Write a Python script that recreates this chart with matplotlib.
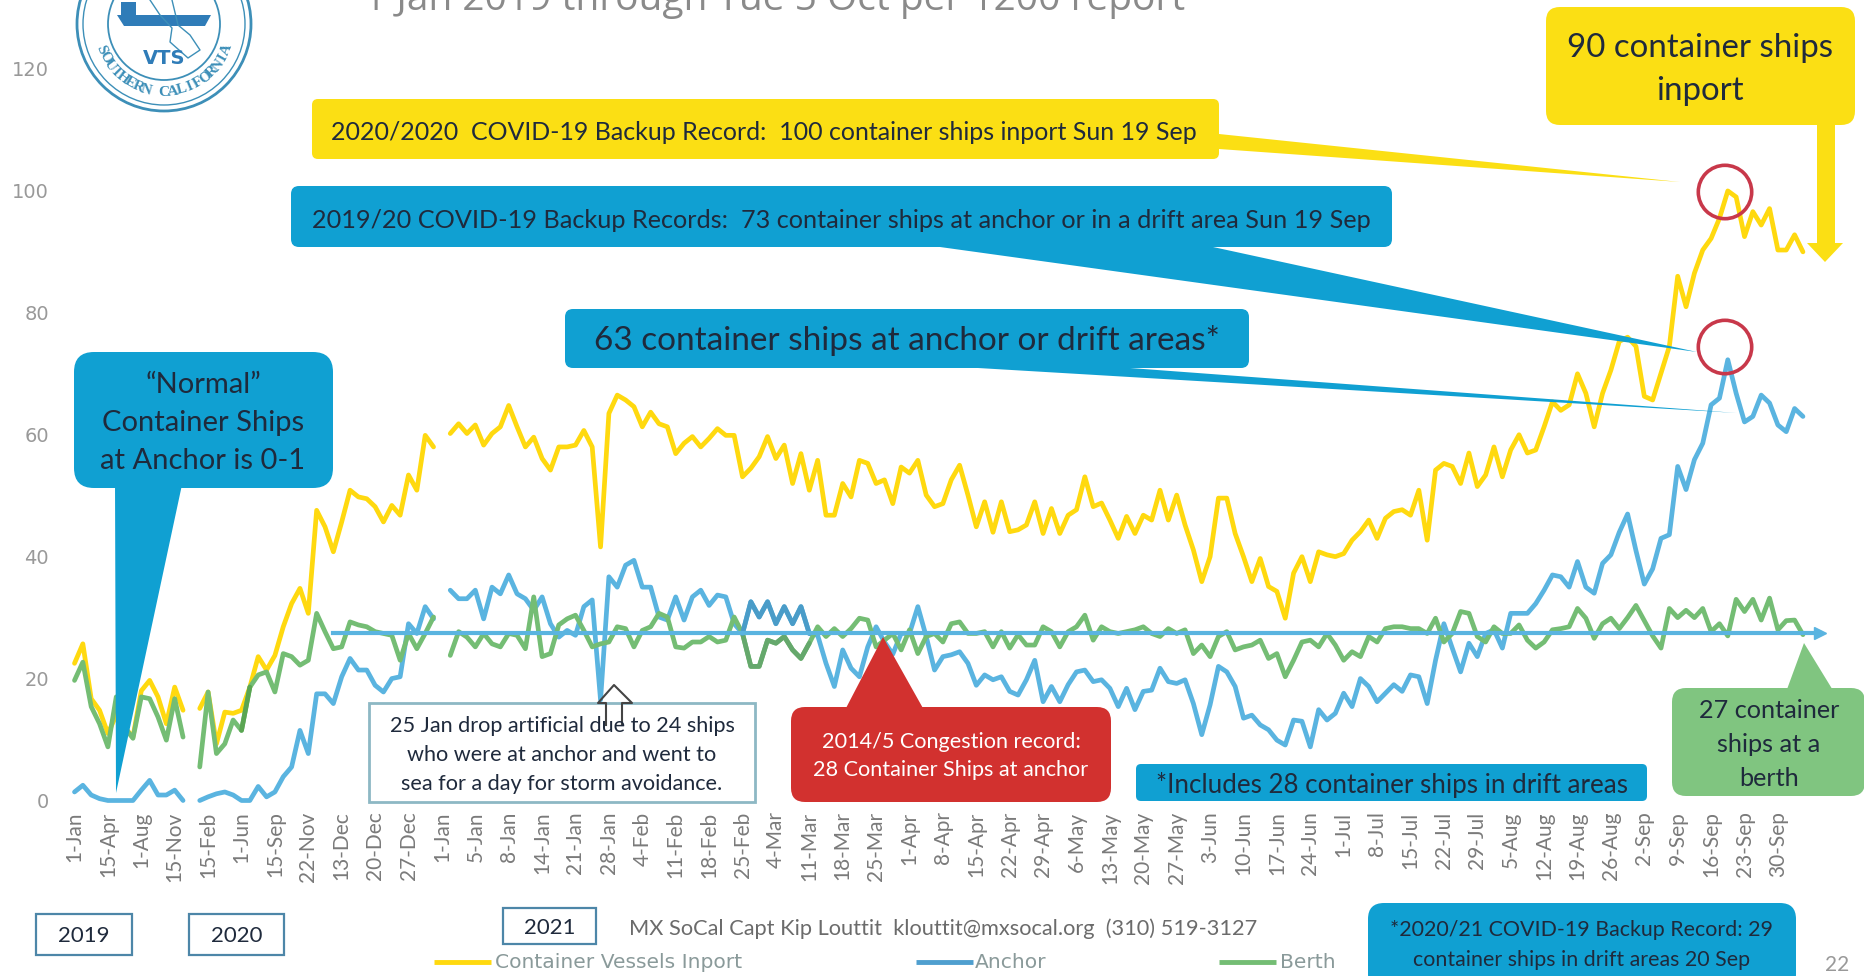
import math

import numpy as np
from matplotlib import pyplot as plt
from matplotlib.patches import Circle, FancyBboxPatch, Polygon, Rectangle

nan = float('nan')

tick_labels = ['1-Jan', '15-Apr', '1-Aug', '15-Nov', '15-Feb', '1-Jun', '15-Sep', '22-Nov', '13-Dec', '20-Dec',
               '27-Dec', '1-Jan', '5-Jan', '8-Jan', '14-Jan', '21-Jan', '28-Jan', '4-Feb', '11-Feb', '18-Feb',
               '25-Feb', '4-Mar', '11-Mar', '18-Mar', '25-Mar', '1-Apr', '8-Apr', '15-Apr', '22-Apr', '29-Apr',
               '6-May', '13-May', '20-May', '27-May', '3-Jun', '10-Jun', '17-Jun', '24-Jun', '1-Jul', '8-Jul',
               '15-Jul', '22-Jul', '29-Jul', '5-Aug', '12-Aug', '19-Aug', '26-Aug', '2-Sep', '9-Sep', '16-Sep',
               '23-Sep', '30-Sep']

inport = [22.5, 25.7, 16.7, 14.8, 11, 14, 12, 10.4, 18, 19.7,
          17, 12.6, 18.6, 14.8, nan, 15.1, 17.8, 9.3, 14.5, 14.3,
          14.8, 18.6, 23.6, 21.4, 23.8, 28.5, 32.3, 34.8, 30.7, 47.6,
          44.9, 40.8, 45.7, 50.9, 49.8, 49.5, 48.2, 45.7, 48.4, 46.8,
          53.4, 50.9, 59.9, 58, nan, 60.2, 61.8, 60.2, 61.6, 58.3,
          60.2, 61.3, 64.8, 61.3, 58, 59.6, 56.1, 54.2, 58, 58,
          58.3, 60.7, 58, 41.6, 63.5, 66.5, 65.7, 64.6, 61.3, 63.7,
          61.8, 61.3, 56.9, 58.6, 59.7, 58, 59.4, 61, 59.9, 59.9,
          53.1, 54.5, 56.4, 59.7, 56.1, 58.3, 52, 56.9, 50.9, 55.8,
          46.8, 46.8, 52, 49.8, 55.8, 55.3, 52, 52.6, 48.7, 54.7,
          53.7, 55.8, 50.1, 48.2, 48.7, 52.6, 55, 50.1, 44.9, 49,
          44, 49, 44.1, 44.4, 45.2, 49, 43.8, 47.9, 43.8, 46.8,
          47.7, 53.1, 48.2, 48.8, 46, 43, 46.6, 43.8, 46.8, 46,
          50.9, 46, 50.1, 45.2, 41.1, 35.9, 40, 49.6, 49.6, 43.8,
          40, 35.9, 39.7, 35.1, 34.3, 29.9, 37.3, 40, 35.9, 40.8,
          40.3, 40, 40.5, 42.7, 44.1, 46, 43, 46.3, 47.4, 47.7,
          46.8, 50.9, 42.7, 54.2, 55.3, 54.8, 52, 57, 51.5, 53.4,
          58, 53.1, 57.5, 60, 57, 57.5, 61.3, 65.4, 64, 64.9,
          70, 66.8, 61.3, 66.8, 70.6, 75.3, 76, 74.5, 66.3, 65.7,
          70.1, 74.5, 86, 81, 86.5, 90.3, 92.2, 95.5, 100, 99,
          92.5, 96.6, 94.4, 97.1, 90.3, 90.3, 92.8, 90]

anchor = [1.4, 2.5, 0.9, 0.3, 0, 0, 0, 0, 1.7, 3.3,
          0.9, 0.9, 1.7, 0, nan, 0, 0.6, 1.1, 1.4, 0.9,
          0, 0, 2.3, 0.6, 1.4, 3.9, 5.5, 11.5, 7.7, 17.5,
          17.5, 15.9, 20.3, 23.3, 21.4, 21.4, 18.9, 17.8, 20, 20.3,
          29, 27.4, 31.8, 29.8, nan, 34.5, 33.1, 33.1, 34.5, 29.8,
          35, 33.9, 37, 33.9, 33.1, 31.2, 33.4, 29, 26.8, 27.9,
          27.1, 31.8, 32.9, 16.5, 36.7, 35, 38.6, 39.4, 35, 35,
          30.1, 29.6, 33.4, 29.6, 33.4, 34.5, 32, 33.7, 33.4, 29,
          27.4, 32.6, 30.1, 32.6, 29, 31.8, 29, 31.8, 27.4, 27.1,
          22.5, 18.7, 24.7, 21.7, 20.3, 25.2, 28.5, 26, 24, 27.4,
          27.4, 31.8, 26.9, 21.4, 23.6, 23.9, 24.4, 22.5, 18.9, 20.6,
          19.8, 20.3, 17.9, 17.3, 19.8, 23, 16.2, 18.7, 16.2, 19,
          21.1, 21.4, 19.5, 19.8, 18.4, 15.4, 18.4, 14.9, 17.9, 18.1,
          21.7, 19.5, 19.2, 19.8, 15.9, 10.8, 15.7, 22, 21.1, 18.7,
          13.5, 14, 12.4, 11.6, 9.9, 9.1, 13.2, 13, 8.8, 14.9,
          13.2, 14.3, 17.6, 15.4, 20, 18.7, 16.2, 17.6, 19, 17.9,
          20.6, 20.3, 15.9, 23, 29, 25, 21.1, 25.8, 23.6, 27.4,
          28, 25, 30.7, 30.7, 30.7, 32.3, 34.5, 37, 36.7, 35,
          39.2, 35, 34, 38.9, 40.3, 44, 47, 41, 35.5, 38,
          43, 43.6, 54.8, 51, 55.9, 58.6, 64.9, 66, 72.3, 66.8,
          62.1, 63, 66.5, 65.2, 61.6, 60.5, 64.3, 63]

berth = [19.7, 22.7, 15.4, 12.6, 8.8, 17, 12, 10.2, 17, 16.7,
         13.7, 9.9, 16.7, 10.4, nan, 5.5, 17.8, 7.7, 9.3, 13.2,
         11.5, 18.6, 20.6, 21.1, 17.8, 24.1, 23.6, 22.2, 23, 30.7,
         27.7, 24.9, 25.2, 29.3, 28.8, 28.5, 27.7, 27.4, 27.1, 23,
         27.4, 24.9, 27.4, 30.1, nan, 23.8, 27.7, 26.8, 25.2, 27.4,
         25.7, 25.2, 27.4, 27.1, 24.9, 33.4, 23.6, 24.1, 28.8, 29.8,
         30.4, 27.9, 25.2, 25.7, 26, 28.5, 28.2, 25.2, 27.9, 28.5,
         30.7, 30.1, 25.2, 25, 26, 26, 26.9, 26, 26.3, 30.1,
         27.4, 22, 22, 26.3, 25.8, 26.9, 24.7, 23.3, 25.8, 28.5,
         26.9, 28.2, 26.9, 28.2, 29.9, 29.6, 25.2, 26.3, 27.4, 24.7,
         28, 24.1, 26.9, 27.4, 26, 29, 29.3, 27.4, 27.4, 27.7,
         25.2, 27.7, 25, 27.2, 25.5, 25.5, 28.5, 27.7, 25.2, 27.7,
         28.5, 30.4, 26.3, 28.5, 27.7, 27.4, 27.7, 28, 28.5, 27.4,
         26.9, 28.2, 27.4, 28, 24.1, 25.5, 23.6, 26.9, 27.7, 24.7,
         25.2, 25.5, 26.3, 23.3, 24.1, 20.3, 23, 26, 26.3, 25.2,
         27.4, 25.5, 23, 24.4, 23.6, 26.9, 26, 28.2, 28.5, 28.5,
         28.2, 28.2, 27.4, 29.9, 26, 27.4, 31, 30.7, 26.9, 26,
         28.5, 27.4, 27.4, 28.8, 26.3, 25, 26, 28, 28.2, 28.5,
         31.5, 29.9, 26.6, 29, 29.9, 28.2, 30, 32, 29.5, 27,
         25, 31.5, 30, 31.2, 30, 31.5, 27.7, 29, 27, 33,
         31, 33, 29.6, 33.2, 28, 29.5, 29.6, 27.2]

record_level = 27.5

YELLOW = '#ffd90f'
BLUE = '#5ab4e0'
GREEN = '#74bd74'
CALL_BLUE = '#10a0d2'
CALL_YELLOW = '#fbdf14'
NAVY = '#1f2a3c'
W, H = 1865, 976
FONT = 'Lato'

fig = plt.figure(figsize=(W / 100, H / 100), dpi=100)

# plot area placed so the 0 and 120 ticks and the date ticks land where the slide has them
LEFT, RIGHT = 60, 1865
TOP, BOTTOM = 0, 810
X0, XSTEP = 74.5, 8.35
Y0, YSTEP = 800.5, 6.096
ax = fig.add_axes([LEFT / W, 1 - BOTTOM / H, (RIGHT - LEFT) / W, (BOTTOM - TOP) / H])
ax.set_xlim((LEFT - X0) / XSTEP, (RIGHT - X0) / XSTEP)
ax.set_ylim((Y0 - BOTTOM) / YSTEP, (Y0 - TOP) / YSTEP)

x = np.arange(len(inport))
kw = dict(lw=3.4, solid_joinstyle='round', solid_capstyle='round', clip_on=False)
ax.plot(x, inport, color=YELLOW, **kw)
ax.plot(x, anchor, color=BLUE, **kw)
ax.plot(x, berth, color=GREEN, **kw)
# darker retouched stretches on the slide
ax.plot(x[20:22], berth[20:22], color='#5aa552', **kw)
ax.plot(x[80:89], berth[80:89], color='#65a86c', **kw)
ax.plot(x[80:89], anchor[80:89], color='#4a9cc8', **kw)
ax.plot([31, 209], [record_level, record_level], color=BLUE, lw=3.0, clip_on=False)
ax.plot([209], [record_level], marker='>', ms=8, color=BLUE, clip_on=False)

ax.set_xticks(x[::4][:len(tick_labels)])
ax.set_xticklabels(tick_labels, rotation=90, fontsize=15, color='#7a7a7a', family=FONT)
ax.set_yticks(range(0, 121, 20))
ax.set_yticklabels([str(v) for v in range(0, 121, 20)], fontsize=14, color='#999999', family='DejaVu Sans')
ax.tick_params(length=0, axis='x', pad=1)
ax.tick_params(length=0, axis='y', pad=8)
for s in ax.spines.values():
    s.set_visible(False)
ax.patch.set_alpha(0)

# overlay in slide pixels for the callouts, y down
ov = fig.add_axes([0, 0, 1, 1], zorder=5)
ov.set_xlim(0, W)
ov.set_ylim(H, 0)
ov.axis('off')


def box(x0, y0, x1, y1, color, round_px=12, edge=None, lw=0):
    ov.add_patch(FancyBboxPatch((x0 + round_px, y0 + round_px), x1 - x0 - 2 * round_px, y1 - y0 - 2 * round_px,
                                boxstyle='round,pad=%d,rounding_size=%d' % (round_px, round_px),
                                fc=color, ec=edge or color, lw=lw))


def tail(pts, color):
    ov.add_patch(Polygon(pts, closed=True, fc=color, ec='none'))


def label(x, y, s, size, color=NAVY, ha='center', family=FONT):
    ov.text(x, y, s, fontsize=size, color=color, ha=ha, va='center', family=family)


# title cut off by the slide crop
ov.text(775, 10, '1 Jan 2019 through Tue 5 Oct per 1200 report', fontsize=28, color='#8a8a8a',
        ha='center', va='baseline', family='Open Sans')

# logo
LOGO = '#3d8fb8'
cx, cy = 164, 24
for r, lw in [(87, 2), (81, 1), (56, 1.3)]:
    ov.add_patch(Circle((cx, cy), r, fc='none', ec=LOGO, lw=lw))
ov.add_patch(Polygon([(117, 15), (211, 15), (205, 26), (124, 26)], fc='#2f7cb8', ec='none'))
ov.add_patch(Rectangle((121, 2), 15, 14, fc='#2f7cb8', ec='none'))
ov.plot([150, 160, 172, 170, 188, 200, 190, 178, 172], [0, 15, 28, 42, 58, 50, 35, 25, 0], color=LOGO, lw=1)
ov.text(cx, 58, 'VTS', fontsize=14, fontweight='bold', color='#2f7cb8', ha='center', va='center',
        family='DejaVu Sans')
letters = 'SOUTHERN CALIFORNIA'
for i, ch in enumerate(letters):
    a = -68 + 136 * i / (len(letters) - 1)
    ov.text(cx + 68 * math.sin(math.radians(a)), cy + 68 * math.cos(math.radians(a)), ch, rotation=a,
            fontsize=11, color=LOGO, ha='center', va='center', family='Liberation Serif', fontweight='bold')

# yellow record
tail([(1219, 134), (1219, 149), (1680, 182)], CALL_YELLOW)
box(312, 99, 1219, 159, CALL_YELLOW, 6)
label(331, 132, '2020/2020  COVID-19 Backup Record:  100 container ships inport Sun 19 Sep', 18, ha='left')

# blue records
tail([(940, 247), (1213, 247), (1697, 352)], CALL_BLUE)
box(291, 186, 1392, 247, CALL_BLUE, 8)
label(312, 220, '2019/20 COVID-19 Backup Records:  73 container ships at anchor or in a drift area Sun 19 Sep', 18.2,
      ha='left')
tail([(978, 368), (1130, 368), (1737, 413)], CALL_BLUE)
box(565, 309, 1249, 368, CALL_BLUE, 8)
label(907, 341, '63 container ships at anchor or drift areas*', 24)

# 90 inport with arrow
ov.add_patch(Rectangle((1817, 120), 18, 125, fc=CALL_YELLOW, ec='none'))
tail([(1807, 243), (1843, 243), (1825, 262)], CALL_YELLOW)
box(1546, 7, 1855, 125, CALL_YELLOW, 14)
label(1700, 48, '90 container ships', 23.8)
label(1700, 91, 'inport', 23.8)

for cy_ in (192, 347):
    ov.add_patch(Circle((1725, cy_), 26.7, fc='none', ec='#c8384a', lw=2.6))

# normal at anchor
tail([(115, 480), (183, 480), (116, 793)], CALL_BLUE)
box(74, 352, 333, 488, CALL_BLUE, 20)
label(203, 385, '\u201cNormal\u201d', 21)
label(203, 423, 'Container Ships', 21)
label(203, 461, 'at Anchor is 0-1', 21)

# storm note
ov.add_patch(Rectangle((369, 703), 386, 99, fc='white', ec='#8db8c4', lw=2))
label(562, 726, '25 Jan drop artificial due to 24 ships', 15.6)
label(562, 755, 'who were at anchor and went to', 15.6)
label(562, 784, 'sea for a day for storm avoidance.', 15.6)
ov.plot([606, 606, 598, 614, 632, 622, 622], [725, 703, 703, 685, 703, 703, 725], color='#444444', lw=1.5)

# 2014/5 record
tail([(845, 710), (924, 710), (883, 637)], '#d2312f')
box(791, 707, 1111, 802, '#d2312f', 14)
label(951, 742, '2014/5 Congestion record:', 15.6, color='white')
label(951, 770, '28 Container Ships at anchor', 15.6, color='white')

box(1136, 764, 1647, 801, CALL_BLUE, 5)
label(1392, 785, '*Includes 28 container ships in drift areas', 18.7)

# berth
tail([(1786, 692), (1834, 692), (1804, 643)], '#80c580')
box(1672, 688, 1865, 796, '#80c580', 14)
label(1769, 711, '27 container', 18.2)
label(1769, 745, 'ships at a', 18.2)
label(1769, 779, 'berth', 18.2)

# year boxes
for x0, y0, x1, y1, yr in [(36, 914, 132, 955, '2019'), (189, 914, 284, 955, '2020'), (503, 908, 596, 944, '2021')]:
    ov.add_patch(Rectangle((x0, y0), x1 - x0, y1 - y0, fc='white', ec='#4d86a8', lw=1.6))
    label((x0 + x1) / 2, (y0 + y1) / 2 + 2, yr, 16)

label(629, 929, 'MX SoCal Capt Kip Louttit  klouttit@mxsocal.org  (310) 519-3127', 15.7, color='#6b6b6b', ha='left')

# legend row
for x0, x1, col, txt, tx in [(434, 491, YELLOW, 'Container Vessels Inport', 495), (916, 973, '#4f9fcf', 'Anchor', 975),
                             (1219, 1276, GREEN, 'Berth', 1280)]:
    ov.plot([x0, x1], [962, 962], color=col, lw=3.5, solid_capstyle='butt')
    label(tx, 962, txt, 14.6, color='#8a9a9a', ha='left', family='DejaVu Sans')

# bottom right note
box(1368, 903, 1796, 990, CALL_BLUE, 16)
label(1582, 930, '*2020/21 COVID-19 Backup Record: 29', 15.4)
label(1582, 960, 'container ships in drift areas 20 Sep', 15.4)

label(1837, 965, '22', 15, color='#999999')

fig.savefig('out.png', dpi=100)
